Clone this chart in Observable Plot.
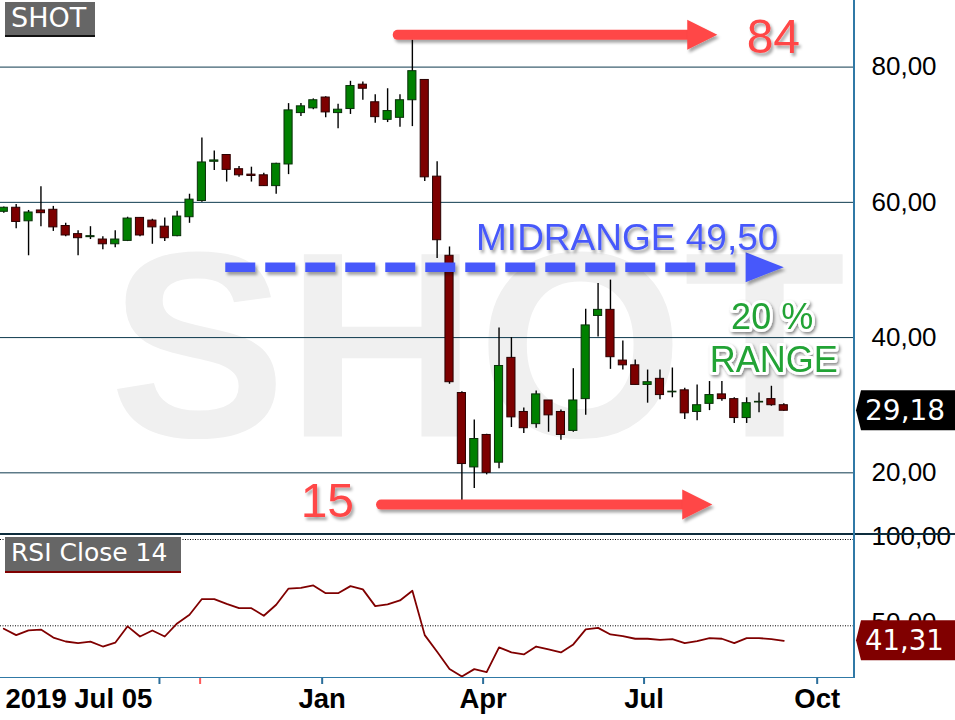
<!DOCTYPE html>
<html>
<head>
<meta charset="utf-8">
<script src="https://cdn.jsdelivr.net/npm/d3@7"></script>
<script src="https://cdn.jsdelivr.net/npm/@observablehq/plot@0.6"></script>
<style>
  html, body { margin: 0; padding: 0; background: #fff; }
  #wrap { position: relative; width: 955px; height: 720px; overflow: hidden; font-family: "Liberation Sans", Arial, sans-serif; }
  #main, #rsi { position: absolute; left: 0; }
  #main { top: 0; }
  #rsi { top: 534px; }
  .line { position: absolute; }
  .label { position: absolute; background: #666; color: #fff; font-family: "DejaVu Sans", sans-serif; box-sizing: border-box; white-space: nowrap; padding-left: 6px; }
</style>
</head>
<body>
<div id="wrap">
  <div id="main"></div>
  <div id="rsi"></div>
  <div class="line" style="left:0;top:533px;width:955px;height:2px;background:#0d2c3c"></div>
  <div class="line" style="left:853px;top:0;width:1.5px;height:678px;background:#3079a6"></div>
  <div class="line" style="left:0;top:676.5px;width:854px;height:1.5px;background:#3079a6"></div>
  <div class="label" style="left:5px;top:2px;width:90px;height:35px;border-bottom:2px solid #111;font-size:27px;line-height:32px;">SHOT</div>
  <div class="label" style="left:5px;top:537px;width:176px;height:36px;border-bottom:2px solid #800000;font-size:25px;line-height:32px;">RSI Close 14</div>
</div>
<script>
// ---------- data (weekly bars, first bar 2019-07-05) ----------
const startDate = "2019-07-05";
const opens  = [58.6,59.2,57.2,58.8,58.9,56.5,55.3,54.85,54.5,53.8,54.3,57.7,57.3,56.4,55.0,57.8,60.2,66.0,67.0,64.9,64.1,64.0,62.4,65.6,73.2,73.9,75.5,73.2,73.8,77.4,74.8,72.2,72.5,75.1,78.1,63.8,52.1,31.8,20.8,25.6,21.5,37.0,29.0,27.2,30.7,29.0,26.2,30.9,43.2,44.1,36.6,35.9,33.0,33.9,31.9,32.2,29.0,30.2,31.6,30.9,28.1,30.4,30.9,30.0];
const highs  = [59.3,59.7,58.8,62.3,59.4,56.9,55.8,56.4,54.9,55.8,57.8,57.7,57.5,57.7,58.7,61.2,69.5,67.6,67.0,65.3,65.2,64.3,65.8,74.6,74.6,75.3,75.6,74.5,77.9,77.8,75.9,76.8,75.9,84.0,78.1,66.0,53.4,32.0,27.8,25.7,41.4,40.0,29.6,32.1,30.7,29.3,35.4,44.2,48.0,48.5,39.5,36.7,35.2,35.2,35.5,32.5,33.0,33.5,33.5,31.1,31.1,31.8,32.8,30.2];
const lows   = [58.4,56.1,52.1,56.4,55.7,54.9,52.1,54.5,53.0,53.3,54.2,54.9,53.8,54.2,54.9,56.9,60.0,64.7,63.0,63.7,63.0,62.35,61.2,64.1,72.7,73.7,72.5,70.9,73.0,75.1,71.7,71.8,71.1,71.2,63.1,51.7,33.1,15.0,17.7,19.7,20.6,26.7,25.8,26.6,26.0,24.8,26.0,28.5,40.1,35.3,35.2,33.0,30.3,30.8,31.1,27.9,27.7,29.2,30.6,27.3,27.3,28.9,29.85,29.1];
const closes = [59.2,57.1,58.5,58.4,56.3,55.1,54.7,55.0,53.8,54.5,57.6,55.1,56.3,54.7,57.9,60.4,65.9,66.2,64.8,64.0,63.9,62.4,65.7,73.6,74.2,75.1,73.3,73.7,77.2,76.8,72.6,73.5,75.1,79.4,63.7,54.4,33.4,21.3,25.0,20.0,35.8,28.2,26.6,31.6,28.5,25.6,30.7,41.8,44.1,37.1,35.9,33.0,33.4,31.5,32.0,28.8,30.0,31.5,30.9,28.1,30.3,30.5,30.0,29.18];
const rsiValues = [48.3,44.6,47.3,47.8,43.2,40.9,40.0,40.8,38.0,40.2,49.7,43.8,47.3,43.8,51.4,56.4,65.5,65.5,62.7,60.2,60.2,55.8,62.2,71.6,72.0,73.4,68.9,68.9,73.0,71.1,61.4,62.4,64.7,70.3,44.6,35.0,25.0,20.6,24.9,23.2,37.5,34.6,33.4,38.0,36.3,34.6,39.2,47.9,48.8,45.0,44.0,42.5,42.5,41.9,42.3,40.0,41.1,42.9,42.5,40.0,42.9,42.9,42.3,41.31];

const priceTicks = [20, 40, 60, 80];
const rsiTicks = [50, 100];
const xTickDates = ["2019-10-01", "2020-01-01", "2020-04-01", "2020-07-01", "2020-10-01"];
const xTickLabels = ["", "Jan", "Apr", "Jul", "Oct"];
const markerDates = ["2019-10-24"];
const firstBarLabel = "2019 Jul 05";

// annotations (data space: date, price)
const watermark = {text: "SHOT", x: "2020-03-28T19:00Z", y: 25.37};
const redArrows = [
  {name: "high", y: 84.77, x1: "2020-02-13", x2: "2020-07-25T10:00Z", tip: "2020-08-11T10:00Z"},
  {name: "low",  y: 15.3,  x1: "2020-02-03T14:00Z", x2: "2020-07-22T14:00Z", tip: "2020-08-08T14:00Z"}
];
const blueArrow = {name: "mid", y: 50.4, x1: "2019-11-07T12:00Z", x2: "2020-08-27T10:00Z", tip: "2020-09-18T00:00Z"};
const headHalf = 2.22;
const highLabel = {text: "84", x: "2020-08-28T00:00Z", y: 82.05};
const lowLabel = {text: "15", x: "2020-01-03T22:00Z", y: 13.43};
const midLabel = {text: "MIDRANGE 49,50", x: "2020-03-28T00:00Z", y: 52.98};
const rangeLabels = [
  {text: "20 %", x: "2020-09-11T10:00Z", y: 41.3},
  {text: "RANGE", x: "2020-09-12T08:00Z", y: 34.98}
];

// ---------- build ----------
const DAY = 864e5;
const t0 = Date.parse(startDate);
const dates = opens.map((_, i) => new Date(t0 + i * 7 * DAY));
const candles = dates.map((d, i) => ({date: d, open: opens[i], high: highs[i], low: lows[i], close: closes[i]}));
const rsiData = dates.map((d, i) => ({date: d, rsi: rsiValues[i]}));
const P = s => new Date(s);
const fmt = d => d.toFixed(2).replace(".", ",");
const labelMap = new Map(xTickDates.map((d, i) => [+P(d), xTickLabels[i]]));

const xScale = {
  type: "utc",
  domain: [P("2019-07-03T03:13Z"), P("2020-09-21T00:00Z"), P("2020-10-14T07:00Z")],
  range: [0, 788.6, 854],
  axis: null
};
const baseStyle = {fontFamily: "'Liberation Sans', Arial, sans-serif", overflow: "visible", background: "transparent", color: "#000"};

const heads = (arr) => arr.flatMap(a => [
  {name: a.name, x: P(a.x2), y: a.y + headHalf},
  {name: a.name, x: P(a.tip), y: a.y},
  {name: a.name, x: P(a.x2), y: a.y - headHalf}
]);
const shafts = (arr) => arr.map(a => ({y: a.y, x1: P(a.x1), x2: P(a.x2)}));
const toPts = (arr) => arr.map(a => ({...a, x: P(a.x)}));

const RED = "#ff4747", BLUE = "#4659fb", GREEN = "#22a336";
const SH = "shadowed", GL = "glow";

const main = Plot.plot({
  width: 955, height: 534,
  marginLeft: 0, marginRight: 101, marginTop: 0, marginBottom: 0,
  x: xScale,
  y: {domain: [10.88, 89.85], axis: null},
  color: {type: "identity"},
  style: baseStyle,
  marks: [
    Plot.text(toPts([watermark]), {x: "x", y: "y", text: "text", fontSize: 265, fontWeight: "bold", fill: "#f0f0f0", textAnchor: "middle", lineAnchor: "bottom"}),
    Plot.gridY(priceTicks, {stroke: "#0e3a4e", strokeOpacity: 1, strokeWidth: 1}),
    Plot.axisY(priceTicks, {anchor: "right", label: null, tickSize: 0, tickPadding: 17, fontSize: 26, tickFormat: fmt, textAnchor: "start"}),
    Plot.ruleX(candles, {x: "date", y1: "low", y2: "high", stroke: "#000", strokeWidth: 1.4}),
    Plot.rect(candles, {
      x1: d => new Date(+d.date - 2.3 * DAY), x2: d => new Date(+d.date + 2.3 * DAY),
      y1: "open", y2: "close",
      fill: d => d.close >= d.open ? "#008000" : "#7d0000",
      stroke: d => d.close >= d.open ? "#0a300a" : "#2a0000",
      strokeWidth: 1
    }),
    Plot.ruleY(shafts(redArrows), {y: "y", x1: "x1", x2: "x2", stroke: RED, strokeWidth: 10, strokeLinecap: "round", ariaDescription: SH}),
    Plot.line(heads(redArrows), {x: "x", y: "y", z: "name", fill: RED, stroke: "none", ariaDescription: SH}),
    Plot.ruleY(shafts([blueArrow]), {y: "y", x1: "x1", x2: "x2", stroke: BLUE, strokeWidth: 9.5, strokeDasharray: "30,10", ariaDescription: SH}),
    Plot.line(heads([blueArrow]), {x: "x", y: "y", z: "name", fill: BLUE, stroke: "none", ariaDescription: SH}),
    Plot.text(toPts([highLabel]), {x: "x", y: "y", text: "text", textAnchor: "start", fontSize: 48, fill: RED, lineAnchor: "bottom", ariaDescription: SH}),
    Plot.text(toPts([lowLabel]), {x: "x", y: "y", text: "text", textAnchor: "middle", fontSize: 48, fill: RED, lineAnchor: "bottom", ariaDescription: SH}),
    Plot.text(toPts([midLabel]), {x: "x", y: "y", text: "text", textAnchor: "start", fontSize: 37, fill: BLUE, lineAnchor: "bottom", ariaDescription: SH}),
    Plot.text(toPts(rangeLabels), {x: "x", y: "y", text: "text", textAnchor: "middle", fontSize: 36, fill: GREEN, stroke: "#fff", strokeWidth: 6, lineAnchor: "bottom", ariaDescription: GL})
  ]
});
document.getElementById("main").appendChild(main);

const rsi = Plot.plot({
  width: 955, height: 186,
  marginLeft: 0, marginRight: 101, marginTop: 0, marginBottom: 43,
  x: xScale,
  y: {domain: [20.05, 102.9], axis: null},
  style: baseStyle,
  marks: [
    Plot.ruleY(rsiTicks, {stroke: "#000", strokeDasharray: "1,1.5", strokeWidth: 1}),
    Plot.axisY(rsiTicks, {anchor: "right", label: null, tickSize: 0, tickPadding: 17, fontSize: 26, tickFormat: fmt, textAnchor: "start", dy: -3}),
    Plot.line(rsiData, {x: "date", y: "rsi", stroke: "#800000", strokeWidth: 1.8}),
    Plot.axisX(xTickDates.map(P), {anchor: "bottom", label: null, tickSize: 7, tickPadding: 4, fontSize: 27.5, fontWeight: "bold", stroke: "#2c6e9a", strokeWidth: 2, fill: "#000", tickFormat: d => labelMap.get(+d)}),
    Plot.axisX(markerDates.map(P), {anchor: "bottom", label: null, tickSize: 7, stroke: "#ff5a5a", strokeWidth: 2, tickFormat: () => ""}),
    Plot.text([firstBarLabel], {frameAnchor: "bottom-left", textAnchor: "start", lineAnchor: "top", dx: 5, dy: 11, fontSize: 27.5, fontWeight: "bold", fill: "#000"})
  ]
});
document.getElementById("rsi").appendChild(rsi);

// value tags on the right, positioned through the plots' y scales
function addTag(svgNode, plotObj, value, color, fontSize) {
  const y = plotObj.scale("y").apply(value);
  const xr = 854;
  const svg = d3.select(svgNode);
  svg.append("path")
    .attr("d", `M${xr + 2},${y} L${xr + 7},${y - 20} L955,${y - 20} L955,${y + 20} L${xr + 7},${y + 20} Z`)
    .attr("fill", color);
  svg.append("text")
    .attr("x", xr + 11).attr("y", y + 10)
    .attr("text-anchor", "start")
    .attr("fill", "#fff")
    .attr("font-family", "'DejaVu Sans', sans-serif")
    .attr("font-size", fontSize)
    .text(fmt(value));
}
addTag(main, main, closes[closes.length - 1], "#000", 28);
addTag(rsi, rsi, rsiValues[rsiValues.length - 1], "#800000", 27.5);

// soft drop shadows (SVG filters in user space so thin lines keep their region)
const defs = d3.select(main).insert("defs", ":first-child");
function addShadow(id, dx, dy, sd, op) {
  defs.append("filter").attr("id", id)
    .attr("filterUnits", "userSpaceOnUse").attr("x", -20).attr("y", -20).attr("width", 1000).attr("height", 580)
    .append("feDropShadow").attr("dx", dx).attr("dy", dy).attr("stdDeviation", sd)
    .attr("flood-color", "#000").attr("flood-opacity", op);
}
addShadow("dsh", 2, 3, 1.8, 0.35);
addShadow("glw", 1.5, 2, 1.8, 0.45);
d3.select(main).selectAll(`g[aria-description="${SH}"]`).attr("filter", "url(#dsh)");
d3.select(main).selectAll(`g[aria-description="${GL}"]`).attr("filter", "url(#glw)");
</script>
</body>
</html>
